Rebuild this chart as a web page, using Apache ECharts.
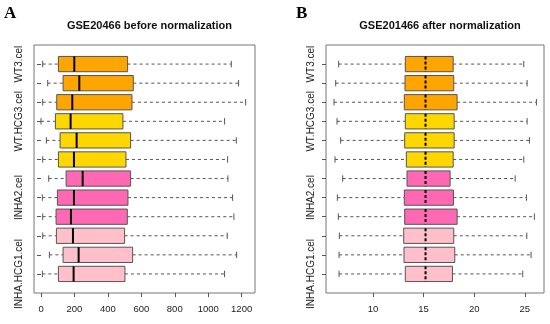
<!DOCTYPE html>
<html><head><meta charset="utf-8">
<script src="https://cdn.jsdelivr.net/npm/echarts@6/dist/echarts.min.js"></script>
<style>html,body{margin:0;padding:0;background:#fff}#c{width:550px;height:324px}</style>
</head><body><div id="c"></div>
<script>
// Samples, bottom row first (R boxplot order)
const samples = ['INHA.HCG1.cel','INHA.HCG2.cel','INHA.HCG3.cel','INHA1.cel','INHA2.cel','INHA3.cel',
                 'WT.HCG1.cel','WT.HCG2.cel','WT.HCG3.cel','WT1.cel','WT2.cel','WT3.cel'];
const shownLabels = ['INHA.HCG1.cel','INHA2.cel','WT.HCG3.cel','WT3.cel'];
// [lower whisker, Q1, median, Q3, upper whisker]
const beforeStats = [
  [8,104,195,502,1098],
  [50,132,225,548,1170],
  [10,92,191,500,1114],
  [10,90,179,516,1154],
  [8,98,197,520,1146],
  [46,150,249,536,1118],
  [10,104,197,508,1116],
  [32,114,213,536,1168],
  [0,86,177,490,1098],
  [10,94,187,544,1224],
  [40,132,229,552,1182],
  [10,104,199,518,1138]
];
const afterStats = [
  [6.64,13.19,15.19,17.85,24.80],
  [6.64,13.06,15.19,18.08,25.62],
  [6.67,13.03,15.19,17.98,25.20],
  [6.57,13.13,15.19,18.31,25.95],
  [6.47,13.09,15.19,17.95,25.16],
  [7.00,13.36,15.19,17.62,24.05],
  [6.24,13.29,15.19,17.92,24.90],
  [6.80,13.13,15.19,18.02,25.46],
  [6.44,13.19,15.19,18.02,25.23],
  [6.14,13.09,15.19,18.31,26.15],
  [6.31,13.16,15.19,17.98,25.23],
  [6.60,13.19,15.19,17.92,24.90]
];
const beforeTicks = [0,200,400,600,800,1000,1200];
const afterTicks = [10,15,20,25];
const groupColors = ['#FFC0CB','#FFC0CB','#FFC0CB','#FF69B4','#FF69B4','#FF69B4',
                     '#FFD700','#FFD700','#FFD700','#FFA500','#FFA500','#FFA500'];

const chart = echarts.init(document.getElementById('c'), null, {renderer:'canvas'});
const labelFont = 'Liberation Sans, Arial, sans-serif';

function makeRender(dashedMedian){
  return function(params, api){
    const pos = api.value(0);
    const lo = api.coord([api.value(1), pos]);
    const q1 = api.coord([api.value(2), pos]);
    const md = api.coord([api.value(3), pos]);
    const q3 = api.coord([api.value(4), pos]);
    const hi = api.coord([api.value(5), pos]);
    const h = api.size([0,1])[1] * 0.8;
    const y = lo[1];
    const cap = h * 0.42;
    const col = groupColors[params.dataIndex];
    const ws = {stroke:'#555', lineWidth:1, lineDash:[3,3]};
    return {type:'group', children:[
      {type:'line', shape:{x1:lo[0], y1:y, x2:q1[0], y2:y}, style:ws},
      {type:'line', shape:{x1:q3[0], y1:y, x2:hi[0], y2:y}, style:ws},
      {type:'line', shape:{x1:lo[0], y1:y-cap/2, x2:lo[0], y2:y+cap/2}, style:{stroke:'#555', lineWidth:1}},
      {type:'line', shape:{x1:hi[0], y1:y-cap/2, x2:hi[0], y2:y+cap/2}, style:{stroke:'#555', lineWidth:1}},
      {type:'rect', shape:{x:q1[0], y:y-h/2, width:q3[0]-q1[0], height:h}, style:{fill:col, stroke:'#555', lineWidth:1}},
      {type:'line', shape:{x1:md[0], y1:y-h/2, x2:md[0], y2:y+h/2},
        style:{stroke:'#000', lineWidth:2, lineDash: dashedMedian ? [3,2] : null}}
    ]};
  };
}
function rows(stats){ return stats.map((s,i)=>[i+1].concat(s)); }

function xAxis(idx, min, max, ticks){
  return {type:'value', gridIndex:idx, min:min, max:max,
    splitLine:{show:false}, axisLine:{show:false},
    axisTick:{show:true, length:4, lineStyle:{color:'#555'}, customValues:ticks},
    axisLabel:{customValues:ticks, color:'#222', fontSize:9.5, fontFamily:labelFont, margin:11,
      formatter:(v)=>String(v)}};
}
function yAxis(idx){
  const vals = shownLabels.map(n=>samples.indexOf(n)+1);
  return {type:'value', gridIndex:idx, min:0, max:13,
    splitLine:{show:false}, axisLine:{show:false},
    axisTick:{show:true, length:4, lineStyle:{color:'#555'}, customValues:samples.map((n,i)=>i+1)},
    axisLabel:{customValues:vals, rotate:90, color:'#222', fontSize:10, fontFamily:labelFont, margin:10,
      formatter:(v)=>samples[Math.round(v)-1] || ''}};
}

chart.setOption({
  animation:false,
  grid:[
    {left:34, top:45, width:221, height:248, show:true, borderColor:'#777', borderWidth:1, backgroundColor:'transparent'},
    {left:326, top:45, width:218, height:248, show:true, borderColor:'#777', borderWidth:1, backgroundColor:'transparent'}
  ],
  title:[
    {text:'GSE20466 before normalization', left:144.5, top:15, textAlign:'center',
      textStyle:{fontSize:11, fontWeight:'bold', fontFamily:labelFont, color:'#111'}},
    {text:'GSE201466 after normalization', left:435, top:15, textAlign:'center',
      textStyle:{fontSize:11, fontWeight:'bold', fontFamily:labelFont, color:'#111'}}
  ],
  graphic:[
    {type:'text', left:4, top:5, style:{text:'A', font:'bold 17px "Liberation Serif", "DejaVu Serif", serif', fill:'#000'}},
    {type:'text', left:296, top:5, style:{text:'B', font:'bold 17px "Liberation Serif", "DejaVu Serif", serif', fill:'#000'}}
  ],
  xAxis:[xAxis(0,-42,1280,beforeTicks), xAxis(1,5.35,26.9,afterTicks)],
  yAxis:[yAxis(0), yAxis(1)],
  series:[
    {type:'custom', xAxisIndex:0, yAxisIndex:0, renderItem:makeRender(false), data:rows(beforeStats),
      encode:{x:[1,2,3,4,5], y:0}, clip:false},
    {type:'custom', xAxisIndex:1, yAxisIndex:1, renderItem:makeRender(true), data:rows(afterStats),
      encode:{x:[1,2,3,4,5], y:0}, clip:false}
  ]
});
</script></body></html>
